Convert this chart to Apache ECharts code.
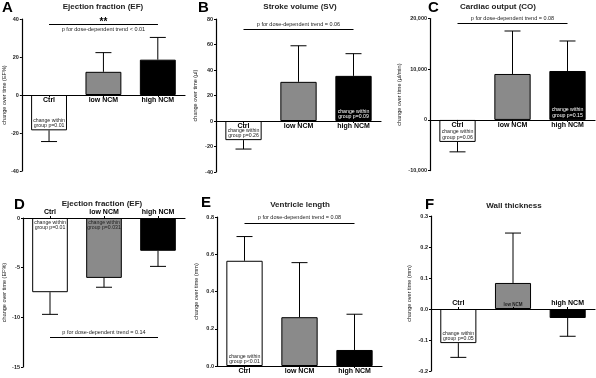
<!DOCTYPE html>
<html>
<head>
<meta charset="utf-8">
<script src="https://cdn.jsdelivr.net/npm/echarts@6/dist/echarts.min.js"></script>
<style>
  html, body { margin: 0; padding: 0; background: #fff; }
  #chart { width: 596px; height: 378px; }
</style>
</head>
<body>
<div id="chart"></div>
<script>
  const FONT = '"Liberation Sans", Arial, sans-serif';

  // categories shared by all panels
  const categories = ['Ctrl', 'low NCM', 'high NCM'];

  // means and SD (one-sided error bars) per panel
  const efMeanA = [-18.6, 12.2, 18.6];
  const efSdA = [5.9, 10.1, 11.7];
  const svMean = [-15, 30.7, 35.4];
  const svSd = [7, 28.3, 17.4];
  const coMean = [-4340, 9070, 9660];
  const coSd = [1960, 8480, 5920];
  const efMeanD = [-7.47, -6.03, -3.3];
  const efSdD = [2.23, 0.94, 1.57];
  const lenMean = [0.565, 0.262, 0.086];
  const lenSd = [0.13, 0.293, 0.192];
  const wallMean = [-0.11, 0.084, -0.029];
  const wallSd = [0.046, 0.161, 0.059];

  // axis ranges: [min, max, interval]
  const axisA = [-40, 40, 20];
  const axisB = [-40, 80, 20];
  const axisC = [-10000, 20000, 10000];
  const axisD = [-15, 0, 5];
  const axisE = [0, 0.8, 0.2];
  const axisF = [-0.2, 0.3, 0.1];

  const letters = ['A', 'B', 'C', 'D', 'E', 'F'];
  const titles = ['Ejection fraction (EF)', 'Stroke volume (SV)', 'Cardiac output (CO)',
    'Ejection fraction (EF)', 'Ventricle length', 'Wall thickness'];
  const yNames = ['change over time (EF%)', 'change over time (µl)', 'change over time (µl/min)',
    'change over time (EF%)', 'change over time (mm)', 'change over time (mm)'];

  // trend annotations (value on y axis where the bracket line sits)
  const trendText = ['p for dose-dependent trend < 0.01', 'p for dose-dependent trend = 0.06',
    'p for dose-dependent trend = 0.08', 'p for dose-dependent trend = 0.14',
    'p for dose-dependent trend = 0.08', null];
  const trendY = [37.2, 71.7, 19130, -12, 0.769, null];
  const trendStars = ['**', '', '', '', '', ''];

  // within-group notes drawn inside bars
  const notesA = ['change within\ngroup p=0.01', '', ''];
  const notesB = ['change within\ngroup p=0.26', '', 'change within\ngroup p=0.09'];
  const notesC = ['change within\ngroup p=0.06', '', 'change within\ngroup p=0.15'];
  const notesD = ['change within\ngroup p=0.01', 'change within\ngroup p=0.031', ''];
  const notesE = ['change within\ngroup p<0.01', '', ''];
  const notesF = ['change within\ngroup p=0.05', '', ''];

  const barColors = ['#ffffff', '#8a8a8a', '#000000'];
  const noteColors = ['#222', '#222', '#fff'];

  const panels = [
    {mean: efMeanA, sd: efSdA, axis: axisA, notes: notesA, notePos: 'insideBottom', grid: [20, 19, 165, 152], xPos: 'bottom', nameGap: 13},
    {mean: svMean, sd: svSd, axis: axisB, notes: notesB, notePos: 'insideBottom', grid: [216, 19, 165, 153], xPos: 'bottom', nameGap: 18},
    {mean: coMean, sd: coSd, axis: axisC, notes: notesC, notePos: 'insideBottom', grid: [430, 18.6, 165, 152], xPos: 'bottom', nameGap: 28},
    {mean: efMeanD, sd: efSdD, axis: axisD, notes: notesD, notePos: 'insideTop', grid: [20, 218, 165, 149], xPos: 'top', nameGap: 16},
    {mean: lenMean, sd: lenSd, axis: axisE, notes: notesE, notePos: 'insideBottom', grid: [217, 217, 165, 149], xPos: 'bottom', nameGap: 18},
    {mean: wallMean, sd: wallSd, axis: axisF, notes: notesF, notePos: 'insideBottom', grid: [431, 216, 164, 155], xPos: 'top', nameGap: 19}
  ];

  const letterPos = [[2, 0], [198, 0], [428, 0], [14, 197], [201, 195], [425, 197]];
  const titlePos = [[103, 3], [300, 3], [498, 3], [102, 200], [300, 201], [514, 202]];

  const grids = [], xAxes = [], yAxes = [], series = [], titleList = [];

  panels.forEach((p, i) => {
    grids.push({left: p.grid[0], top: p.grid[1], width: p.grid[2], height: p.grid[3]});

    // move the category axis (line + labels) onto the zero value
    const [min, max] = p.axis;
    const h = p.grid[3];
    const shift = p.xPos === 'bottom' ? h * (0 - min) / (max - min) : h * (max - 0) / (max - min);

    xAxes.push({
      type: 'category',
      gridIndex: i,
      data: categories,
      position: p.xPos,
      offset: -shift,
      z: 10,
      axisLine: {onZero: false, lineStyle: {color: '#000', width: 1.2}},
      axisTick: {show: true, alignWithLabel: true, length: 2, lineStyle: {color: '#000'}},
      axisLabel: {
        fontFamily: FONT, fontSize: 7, fontWeight: 'bold', color: '#000', margin: 2,
        formatter: i === 5 ? (v => v === 'low NCM' ? '{s|' + v + '}' : v) : null,
        rich: {s: {fontSize: 4.5, color: '#222', fontFamily: FONT}}
      }
    });

    yAxes.push({
      type: 'value',
      gridIndex: i,
      min: p.axis[0],
      max: p.axis[1],
      interval: p.axis[2],
      name: yNames[i],
      nameLocation: 'middle',
      nameGap: p.nameGap,
      nameTextStyle: {fontFamily: FONT, fontSize: 5.5, color: '#222'},
      splitLine: {show: false},
      axisLine: {show: true, onZero: false, lineStyle: {color: '#000', width: 1.2}},
      axisTick: {show: true, length: 2, lineStyle: {color: '#000'}},
      axisLabel: {
        fontFamily: FONT, fontSize: 5.5, fontWeight: 'bold', color: '#222', margin: 3,
        formatter: (i === 4 || i === 5) ? (v => v.toFixed(1)) : null
      }
    });

    const markData = [];
    if (trendText[i]) {
      markData.push([
        {coord: [0, trendY[i]], label: {show: true, formatter: trendText[i], position: i === 0 ? 'insideMiddleBottom' : 'insideMiddleTop', distance: 2}},
        {coord: [2, trendY[i]]}
      ]);
    }
    if (trendStars[i]) {
      markData.push([
        {coord: [0, trendY[i]], label: {show: true, formatter: trendStars[i], position: 'insideMiddleTop', fontSize: 10, fontWeight: 'bold', color: '#000', distance: -3}},
        {coord: [2, trendY[i]]}
      ]);
    }

    series.push({
      type: 'bar',
      xAxisIndex: i,
      yAxisIndex: i,
      barWidth: '66%',
      animation: false,
      data: p.mean.map((v, k) => ({
        value: v,
        itemStyle: {color: barColors[k], borderColor: '#000', borderWidth: 1},
        label: {
          show: !!p.notes[k],
          formatter: p.notes[k],
          position: p.notePos,
          distance: 1.5,
          fontFamily: FONT,
          fontSize: 5.2,
          lineHeight: 5.6,
          color: noteColors[k]
        }
      })),
      markLine: {
        silent: true,
        symbol: 'none',
        animation: false,
        lineStyle: {color: '#000', width: 1, type: 'solid'},
        label: {fontFamily: FONT, fontSize: 5.5, color: '#222'},
        data: markData
      }
    });

    series.push({
      type: 'custom',
      xAxisIndex: i,
      yAxisIndex: i,
      animation: false,
      z: 3,
      data: p.mean.map((v, k) => [k, v, v + (v < 0 ? -p.sd[k] : p.sd[k])]),
      renderItem: (params, api) => {
        const a = api.coord([api.value(0), api.value(1)]);
        const b = api.coord([api.value(0), api.value(2)]);
        const half = 8;
        const style = {stroke: '#000', lineWidth: 1};
        return {
          type: 'group',
          children: [
            {type: 'line', shape: {x1: a[0], y1: a[1], x2: b[0], y2: b[1]}, style},
            {type: 'line', shape: {x1: b[0] - half, y1: b[1], x2: b[0] + half, y2: b[1]}, style}
          ]
        };
      }
    });

    titleList.push({
      text: letters[i], left: letterPos[i][0], top: letterPos[i][1], padding: 0,
      textStyle: {fontFamily: FONT, fontSize: 15, fontWeight: 'bold', color: '#000'}
    });
    titleList.push({
      text: titles[i], left: titlePos[i][0], top: titlePos[i][1], textAlign: 'center', padding: 0,
      textStyle: {fontFamily: FONT, fontSize: 8, fontWeight: 'bold', color: '#222'}
    });
  });

  const chart = echarts.init(document.getElementById('chart'));
  chart.setOption({
    backgroundColor: '#fff',
    animation: false,
    title: titleList,
    grid: grids,
    xAxis: xAxes,
    yAxis: yAxes,
    series: series
  });
</script>
</body>
</html>
